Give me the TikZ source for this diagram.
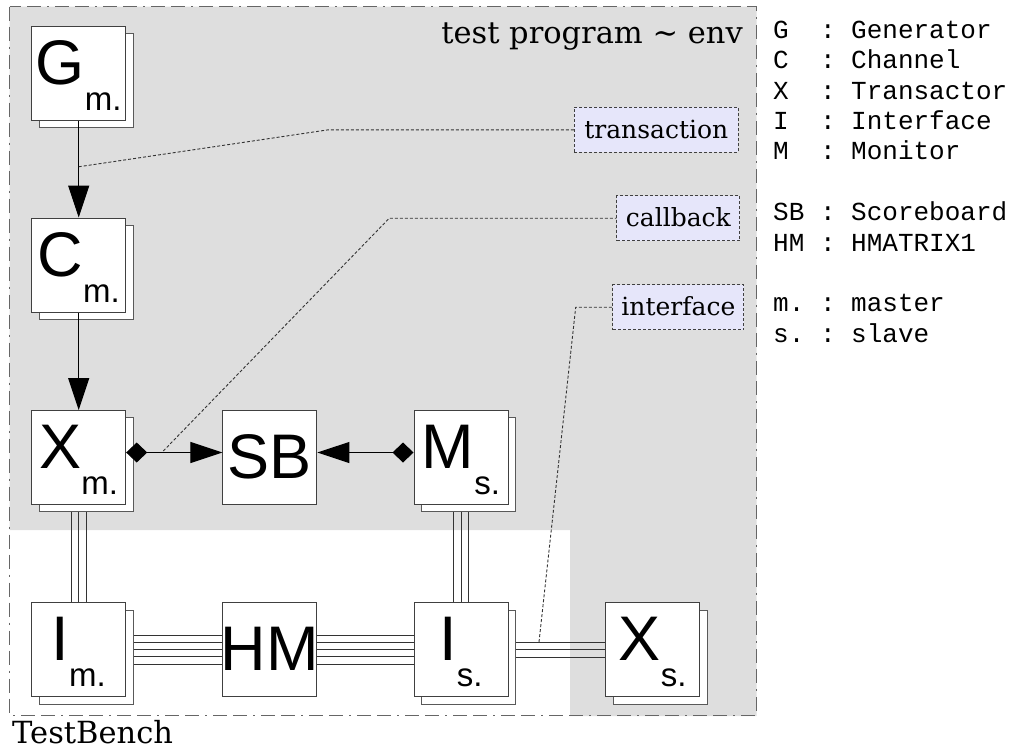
\documentclass[tikz,border=0pt]{standalone}
\usepackage{fontspec}
\setmainfont{DejaVu Serif}
\newfontfamily\boxfont{Liberation Sans}
\newfontfamily\legfont{Liberation Mono}
\usetikzlibrary{arrows.meta,shadows,calc}
\pgfdeclarelayer{bg}\pgfdeclarelayer{conn}
\pgfsetlayers{bg,conn,main}
\definecolor{envgray}{HTML}{DEDEDE}
\definecolor{lblfill}{HTML}{E6E6FA}
\newcommand\boxsub[1]{\raisebox{-26pt}{\fontsize{33}{33}\selectfont #1}}
\begin{document}
\begin{tikzpicture}[x=1pt,y=-1pt,
  box/.style={draw=black!75, fill=white, line width=1pt, minimum size=94pt, inner sep=0pt,
    text height=47pt, text depth=25pt, font=\boxfont\fontsize{63}{63}\selectfont},
  cbox/.style={box, text height=42pt, text depth=0pt},
  sbox/.style={box, copy shadow={shadow xshift=7.3pt, shadow yshift=-7.3pt, draw=black!65, fill=white}},
  arr/.style={draw=black, line width=1pt},
  bus/.style={draw=black!80, line width=1pt},
  leader/.style={draw=black!80, line width=0.9pt, dash pattern=on 3pt off 2pt},
  lbl/.style={draw=black!75, line width=0.9pt, dash pattern=on 3pt off 2pt, fill=lblfill,
    inner sep=0pt, text height=17pt, text depth=0pt, font=\fontsize{25}{25}\selectfont},
  leg/.style={anchor=base west, inner sep=0pt, font=\legfont\fontsize{26}{26}\selectfont},
  frame/.style={draw=black!60, line width=1pt, dash pattern=on 14pt off 6pt on 14pt off 6pt on 2pt off 6pt}
]
\useasboundingbox (0,0) rectangle (1011,750);
\begin{pgfonlayer}{bg}
  \fill[envgray] (9.5,6.5) -- (756.7,6.5) -- (756.7,716) -- (570,716) -- (570,530) -- (9.5,530) -- cycle;
\end{pgfonlayer}
\draw[frame] (9.5,6.5) rectangle (756.7,715);

% boxes
\node[sbox] (G)  at (78.7,73)    {\makebox[0pt]{G\boxsub{m.}}};
\node[sbox] (C)  at (78.7,265)   {\makebox[0pt]{C\boxsub{m.}}};
\node[sbox] (Xm) at (78.7,457.5) {\makebox[0pt]{X\boxsub{m.}}};
\node[cbox] (SB) at (269.9,457.5) {\makebox[0pt]{SB}};
\node[sbox] (M)  at (461,457.5)  {\makebox[0pt]{M\boxsub{s.}}};
\node[sbox] (Im) at (78.7,649.7) {\makebox[0pt]{I\boxsub{m.}}};
\node[cbox] (HM) at (269.9,649.7) {\makebox[0pt]{HM}};
\node[sbox] (Is) at (461,649.7)  {\makebox[0pt]{I\boxsub{s.}}};
\node[sbox] (Xs) at (652.7,649.7) {\makebox[0pt]{X\boxsub{s.}}};

% buses
\begin{pgfonlayer}{conn}
  \foreach \d in {-7.5,0,7.5} {
    \draw[bus] ([xshift=\d pt]Xm.center) -- ([xshift=\d pt]Im.center);
    \draw[bus] ([xshift=\d pt]M.center) -- ([xshift=\d pt]Is.center);
    \draw[bus] ([yshift=\d pt]Is.center) -- ([yshift=\d pt]Xs.center);
  }
  \foreach \d in {-14.5,-7.25,0,7.25,14.5} {
    \draw[bus] ([yshift=\d pt]Im.center) -- ([yshift=\d pt]HM.center);
    \draw[bus] ([yshift=\d pt]HM.center) -- ([yshift=\d pt]Is.center);
  }
\end{pgfonlayer}

% arrows
\draw[arr, -{Triangle[length=32pt,width=21pt]}] (G.south) -- (C.north);
\draw[arr, -{Triangle[length=32pt,width=21pt]}] (C.south) -- (Xm.north);
\draw[arr, {Diamond[length=21pt,width=20pt]}-{Triangle[length=32pt,width=21pt]}]
  ([yshift=5pt]Xm.east) -- ([yshift=5pt]SB.west);
\draw[arr, {Diamond[length=21pt,width=20pt]}-{Triangle[length=32pt,width=21pt]}]
  ([yshift=5pt]M.west) -- ([yshift=5pt]SB.east);

% labels
\node[lbl, minimum width=164pt, minimum height=45pt] (trn) at (656.3,129.8) {transaction};
\node[lbl, minimum width=123pt, minimum height=45pt] (cbk) at (678.4,218.2) {callback};
\node[lbl, minimum width=131pt, minimum height=45pt] (ifc) at (678.4,307.2) {interface};

% leaders
\coordinate (t0) at ($(G.south)!0.477!(C.north)$);
\coordinate (t1) at (328.3,129.8);
\draw[leader] (t0) -- (t1) -- (trn.west);
\coordinate (c0) at (163.3,451);
\coordinate (c1) at (389.3,218.2);
\draw[leader] (c0) -- (c1) -- (cbk.west);
\coordinate (i0) at (539,642);
\coordinate (i1) at (575.7,307.2);
\draw[leader] (i0) -- (i1) -- (ifc.west);

% titles
\node[anchor=base east, inner sep=0pt, font=\fontsize{30.5}{30.5}\selectfont] (env) at (743,43.3) {test program \textasciitilde{} env};
\node[anchor=base west, inner sep=0pt, font=\fontsize{30.5}{30.5}\selectfont] (tb) at (12,743.5) {TestBench};

% legend
\node[leg] (l1) at (773,38.3)  {G\ \ :\ Generator};
\node[leg] (l2) at (773,68.7)  {C\ \ :\ Channel};
\node[leg] (l3) at (773,99.1)  {X\ \ :\ Transactor};
\node[leg] (l4) at (773,129.5) {I\ \ :\ Interface};
\node[leg] (l5) at (773,159.9) {M\ \ :\ Monitor};
\node[leg] (l6) at (773,220.7) {SB\ :\ Scoreboard};
\node[leg] (l7) at (773,251.1) {HM\ :\ HMATRIX1};
\node[leg] (l8) at (773,311.9) {m.\ :\ master};
\node[leg] (l9) at (773,342.3) {s.\ :\ slave};
\end{tikzpicture}
\end{document}
